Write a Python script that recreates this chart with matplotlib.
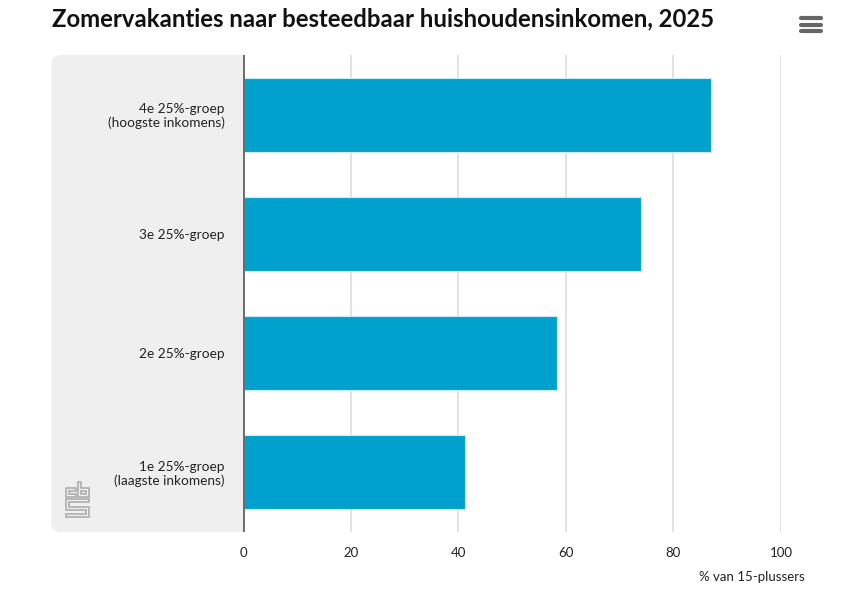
import matplotlib.pyplot as plt
from matplotlib.patches import FancyBboxPatch, Polygon
from matplotlib.lines import Line2D

# data (bottom to top)
groups = ["1e 25%-groep\n(laagste inkomens)", "2e 25%-groep",
          "3e 25%-groep", "4e 25%-groep\n(hoogste inkomens)"]
values = [41.3, 58.4, 74.0, 87.0]
xticks = [0, 20, 40, 60, 80, 100]

title = "Zomervakanties naar besteedbaar huishoudensinkomen, 2025"
xlabel = "% van 15-plussers"

W, H = 848, 613
plt.rcParams['font.family'] = ['Lato', 'DejaVu Sans']

fig = plt.figure(figsize=(W / 100, H / 100), dpi=100)


def px(x, y):
    # pixel (from top-left) to figure fraction
    return x / W, 1 - y / H


# grey label panel with rounded corners
x0, y0 = px(51, 532)
panel = FancyBboxPatch((x0, y0), (260 - 51) / W, (532 - 55) / H,
                       boxstyle="round,pad=0,rounding_size=0.012",
                       transform=fig.transFigure, facecolor="#efefef",
                       edgecolor="none", zorder=0, mutation_aspect=W / H)
fig.add_artist(panel)

ax = fig.add_axes([243 / W, 1 - 532 / H, (781 - 243) / W, (532 - 55) / H])
ax.set_facecolor("white")
ax.set_zorder(1)

ypos = range(len(values))
ax.barh(ypos, values, height=0.62, color="#00a1cd", edgecolor="#c8ecf7",
        linewidth=0.8, zorder=3)

ax.set_xlim(0, 100)
ax.set_ylim(-0.5, 3.5)
ax.set_xticks(xticks)
ax.set_xticklabels([str(t) for t in xticks], fontsize=9.5, color="#222222")
ax.set_yticks(list(ypos))
ax.set_yticklabels(groups, fontsize=9.8, color="#222222", linespacing=1.15)
ax.tick_params(axis="x", length=0, pad=11)
ax.tick_params(axis="y", length=0, pad=13)
for lab in ax.get_yticklabels():
    lab.set_multialignment("right")

for t in xticks[1:]:
    ax.axvline(t, color="#dfdfdf", lw=1.3, zorder=1)
ax.axvline(0, color="#6b6b6b", lw=2.8, zorder=4)
for s in ax.spines.values():
    s.set_visible(False)

# labels outside the axes
fx, fy = px(52, 19)
fig.text(fx, fy, title, fontsize=17.2, fontweight="bold", color="#111111",
         va="center", ha="left")
fx, fy = px(805, 577)
fig.text(fx, fy, xlabel, fontsize=9.5, color="#222222", ha="right", va="center")

# hamburger menu icon
for yy in (18, 24.5, 31):
    a, b = px(801, yy)
    c, d = px(821, yy)
    fig.add_artist(Line2D([a, c], [b, d], color="#666666", lw=3,
                          solid_capstyle="round", transform=fig.transFigure))

# small cbs logo, outlined shapes in a 23x35 pixel box
lx, ly = 66, 482
shapes = [
    [(10, 6), (0, 6), (0, 15), (10, 15), (10, 12), (3, 12), (3, 9), (10, 9)],
    [(12, 0), (15, 0), (15, 6), (23, 6), (23, 15), (12, 15)],
    [(15, 9), (20, 9), (20, 12), (15, 12)],
    [(0, 17), (23, 17), (23, 20), (3, 20), (3, 24.5), (23, 24.5), (23, 35),
     (0, 35), (0, 32), (20, 32), (20, 27.5), (0, 27.5)],
]
for pts in shapes:
    fpts = [px(lx + x, ly + y) for x, y in pts]
    fig.add_artist(Polygon(fpts, closed=True, fill=False, edgecolor="#a8a8a8",
                           lw=1.1, transform=fig.transFigure, zorder=2))

fig.savefig("out.png", dpi=100)
